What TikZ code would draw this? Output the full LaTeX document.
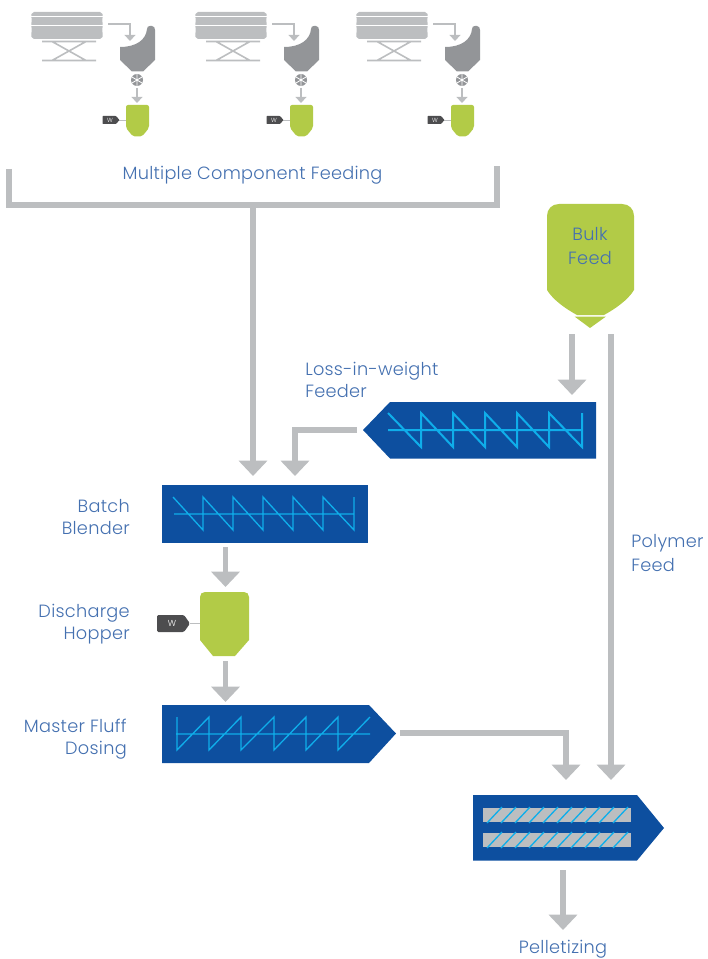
\documentclass[tikz,border=0pt]{standalone}
\usepackage{fontspec}
\setmainfont[LetterSpace=1.5]{Poppins Light}
\usetikzlibrary{arrows.meta}
\definecolor{flowgray}{HTML}{BCBEC0}
\definecolor{hopgray}{HTML}{939598}
\definecolor{leaf}{HTML}{B2CB47}
\definecolor{deep}{HTML}{0D4F9F}
\definecolor{sky}{HTML}{0FAEEA}
\definecolor{tagdark}{HTML}{4D4D4F}
\definecolor{labelblue}{HTML}{4470B0}
\tikzset{
  x=.75pt,y=-.75pt,
  flow/.style={draw=flowgray,line width=4.1pt,-{Triangle[width=21pt,length=11.5pt]},line join=miter},
  bar/.style={draw=flowgray,line width=4.1pt,line join=miter},
  smallflow/.style={draw=flowgray,line width=1.5pt,-{Triangle[width=8pt,length=4.5pt]}},
  lab/.style={text=labelblue,font=\fontsize{13.3}{16.5}\selectfont,inner sep=0pt},
  screw/.style={draw=sky,line width=1pt,line join=miter},
  tagtext/.style={text=white,font=\fontsize{6.5}{7}\selectfont,inner sep=0pt},
}
\newcommand{\feedunit}[2]{%
\begin{scope}[shift={(#1,0)}]
  % belts
  \fill[flowgray,rounded corners=1.5pt] (32,12) -- (102,12) -- (103,16) -- (102,20) -- (103,25) -- (102,30) -- (103,35) -- (102,39) -- (32,39) -- (31,35) -- (32,30) -- (31,25) -- (32,20) -- (31,16) -- cycle;
  \draw[white,line width=.6pt] (31,16.7) -- (103,16.7) (31,25.4) -- (103,25.4);
  % scissor table
  \draw[flowgray,line width=1.2pt] (42,41.5) -- (96,41.5) (42,60.5) -- (96,60.5) (52,41.5) -- (86,60.5) (86,41.5) -- (52,60.5);
  % hopper
  \fill[hopgray] (120,47) .. controls (136,47) and (146,40) .. (147,29) .. controls (147,27) and (148,26) .. (150,26) -- (152,26) .. controls (154,26) and (155,28) .. (155,30) -- (155,60) -- (143,71.5) -- (132,71.5) -- (120,60) -- cycle;
  % transfer arrow
  \coordinate (belt#2) at (108,24.5);
  \coordinate (hop#2) at (130,41);
  \draw[smallflow] (belt#2) -| (hop#2);
  % rotary valve
  \fill[hopgray] (137,80) circle[radius=6];
  \draw[white,line width=.6pt] (137,74) -- (137,86) (132,77) -- (142,83) (142,77) -- (132,83);
  \coordinate (valve#2) at (137,88);
  \coordinate (scale#2) at (137,103);
  \draw[smallflow] (valve#2) -- (scale#2);
  % small weigh hopper
  \fill[leaf,rounded corners=1.5pt] (126,105) -- (149,105) -- (149,128) -- (142,136.5) -- (133,136.5) -- (126,128) -- cycle;
  \draw[flowgray,line width=.7pt] (119,120) -- (126,120);
  \fill[tagdark,rounded corners=.5pt] (102.5,116) -- (116,116) -- (119.5,120) -- (116,124) -- (102.5,124) -- cycle;
  \node[tagtext,font=\fontsize{4.5}{5}\selectfont] (w#2) at (110,120) {W};
\end{scope}}
\begin{document}
\begin{tikzpicture}
\useasboundingbox (0,0) rectangle (707,959);
\feedunit{0}{a}
\feedunit{164}{b}
\feedunit{325}{c}

% bracket
\coordinate (bl) at (9,169);
\coordinate (br) at (497,166);
\draw[bar] (bl) -- (9,205) -- (497,205) -- (br);
\coordinate (trunk) at (253,205);

% blue vessels
\fill[deep] (596,402) -- (596,458.5) -- (390,458.5) -- (363,430) -- (390,402) -- cycle;
\fill[deep] (162,485) rectangle (368,543);
\fill[deep] (162,705) -- (369,705) -- (396,733.5) -- (369,763) -- (162,763) -- cycle;
\fill[deep] (473,795) -- (637,795) -- (664,828) -- (637,860.5) -- (473,860.5) -- cycle;

% screws
\draw[screw,line width=1.5pt] (388,430) -- (582,430)
  (388,413) -- (421,447) -- (421,413) -- (453,447) -- (453,413) -- (485,447) -- (485,413) -- (517,447) -- (517,413) -- (549,447) -- (549,413) -- (582,447) -- (582,413);
\draw[screw] (174,514) -- (354,514)
  (173,497) -- (203,530) -- (203,497) -- (233,530) -- (233,497) -- (263,530) -- (263,497) -- (293,530) -- (293,497) -- (323,530) -- (323,497) -- (354,530) -- (354,497);
\draw[screw] (176,734) -- (370,734)
  (177,717) -- (177,750) -- (209,717) -- (209,750) -- (241,717) -- (241,750) -- (274,717) -- (274,750) -- (306,717) -- (306,750) -- (338,717) -- (338,750) -- (370,717);

% extruder barrels
\fill[flowgray] (483,808) rectangle (631,822);
\fill[flowgray] (483,833) rectangle (631,847);
\foreach \i in {0,...,9}{
  \draw[sky,line width=1pt] ({487+14*\i},823) -- ({502+14*\i},807);
  \draw[sky,line width=1pt] ({487+14*\i},848) -- ({502+14*\i},832);
}

% green hoppers
\fill[leaf] (547,216) .. controls (547,209) and (552,204) .. (559,204) -- (622,204) .. controls (629,204) and (634,209) .. (634,216) -- (634,290) .. controls (628,300) and (615,309) .. (604,315) -- (577,315) .. controls (566,309) and (553,300) .. (547,290) -- cycle;
\fill[leaf] (574.5,316.5) -- (606,316.5) -- (590,328) -- cycle;

\fill[leaf] (200,597) .. controls (200,594) and (202,592) .. (205,592) -- (244,592) .. controls (247,592) and (249,594) .. (249,597) -- (249,640) -- (235,656) -- (213,656) -- (200,640) -- cycle;
\draw[flowgray,line width=.8pt] (190,623.5) -- (200,623.5);
\fill[tagdark,rounded corners=1pt] (157,615) -- (184,615) -- (190,623.5) -- (184,632) -- (157,632) -- cycle;
\node[tagtext] (wtag) at (172,623.5) {W};

% connectors
\coordinate (trunkend) at (253,476);
\draw[flow] (trunk) -- (trunkend);
\coordinate (feederout) at (357,430);
\coordinate (blendin) at (295,476);
\draw[flow] (feederout) -| (blendin);
\coordinate (bulkout) at (572,334);
\coordinate (feederin) at (572,395);
\draw[flow] (bulkout) -- (feederin);
\coordinate (polymertop) at (611,334);
\coordinate (extin2) at (611,780);
\draw[flow] (polymertop) -- (extin2);
\coordinate (blendout) at (225.5,547);
\coordinate (hopin) at (225.5,587);
\draw[flow] (blendout) -- (hopin);
\coordinate (hopout) at (225.5,661);
\coordinate (dosein) at (225.5,702);
\draw[flow] (hopout) -- (dosein);
\coordinate (doseout) at (400,733);
\coordinate (extin1) at (566,780);
\draw[flow] (doseout) -| (extin1);
\coordinate (extout) at (563,870);
\coordinate (pellet) at (563,930);
\draw[flow] (extout) -- (pellet);

% labels
\node[lab] (mcf) at (252.5,175) {Multiple Component Feeding};
\node[lab,align=center] (bulk) at (590,246.5) {Bulk\\[1.5pt]Feed};
\node[lab,align=left,anchor=west] (liw) at (305,380) {Loss-in-weight\\Feeder};
\node[lab,align=right,anchor=east] (bb) at (130,517) {Batch\\Blender};
\node[lab,align=right,anchor=east] (dh) at (130,624) {Discharge\\Hopper};
\node[lab,align=right,anchor=east] (mfd) at (127,739) {Master Fluff\\Dosing};
\node[lab,align=left,anchor=west] (pf) at (631,553.5) {Polymer\\[1.5pt]Feed};
\node[lab] (pel) at (563,949) {Pelletizing};
\end{tikzpicture}
\end{document}
